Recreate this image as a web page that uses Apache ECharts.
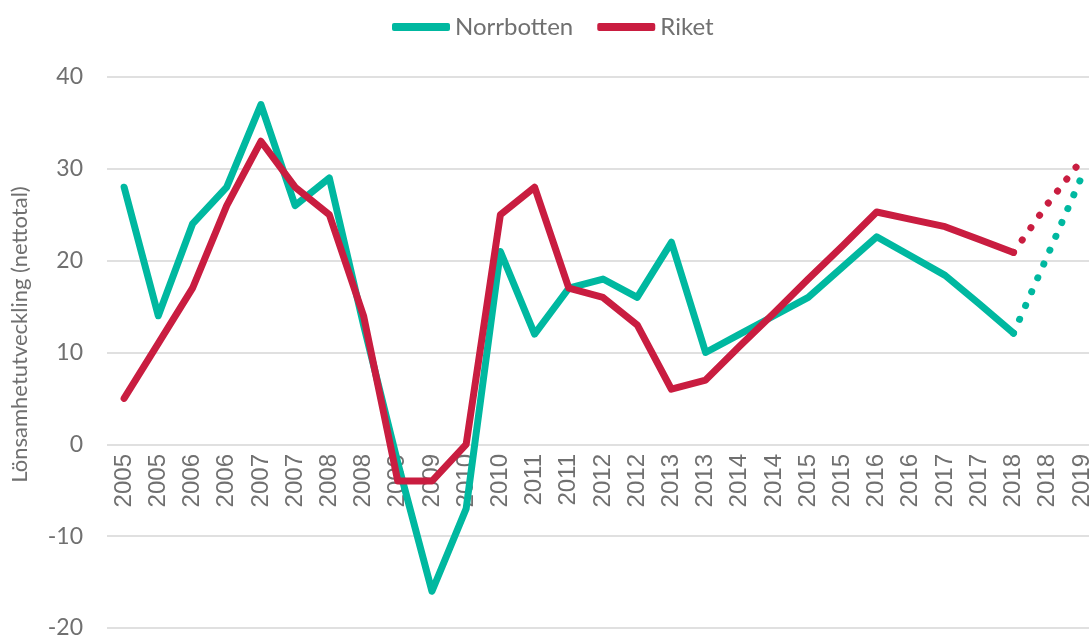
<!DOCTYPE html>
<html>
<head>
<meta charset="utf-8">
<script src="https://cdn.jsdelivr.net/npm/echarts@6/dist/echarts.min.js"></script>
<style>
  html, body { margin: 0; padding: 0; background: #fff; }
  #chart { width: 1089px; height: 635px; }
</style>
</head>
<body>
<div id="chart"></div>
<script>
const categories = ['2005', '2005', '2006', '2006', '2007', '2007', '2008', '2008', '2009', '2009',
  '2010', '2010', '2011', '2011', '2012', '2012', '2013', '2013', '2014', '2014',
  '2015', '2015', '2016', '2016', '2017', '2017', '2018', '2018', '2019']

// utfall (heldragen linje)
const norrbotten = [28, 14, 24, 28, 37, 26, 29, 13, -2, -16, -7, 21, 12, 17, 18, 16, 22, 10,
  12, 14, 16, 19.3, 22.6, 20.5, 18.4, 15.3, 12.1]
const riket = [5, 11, 17, 26, 33, 28, 25, 14, -4, -4, 0, 25, 28, 17, 16, 13, 6, 7,
  10.7, 14.3, 18, 21.6, 25.3, 24.5, 23.7, 22.3, 20.9]

// prognos (prickad linje), från sista utfallet
const norrbottenPrognos = [12.1, 20.6, 29.2]
const riketPrognos = [20.9, 26.2, 31]

const teal = '#00b8a0'
const red = '#c91d40'
const grey = '#707070'

function prognos(values) {
  const arr = categories.map(() => null)
  values.forEach((v, i) => { arr[categories.length - values.length + i] = v })
  return arr
}

const chart = echarts.init(document.getElementById('chart'))

const option = {
  animation: false,
  legend: {
    left: 387,
    top: 10,
    itemWidth: 58,
    itemHeight: 8,
    itemGap: 24,
    icon: 'roundRect',
    data: ['Norrbotten', 'Riket'],
    textStyle: { fontFamily: 'Lato', fontSize: 24, color: grey }
  },
  grid: {
    left: 107,
    right: -10,
    top: 77,
    bottom: 7,
    outerBoundsMode: 'none',
    containLabel: false
  },
  xAxis: {
    type: 'category',
    data: categories,
    boundaryGap: true,
    // etiketterna sitter vid nollinjen (y = 0 ligger 184 px ovanför nederkanten)
    offset: -184,
    axisLine: { show: false, onZero: false },
    axisTick: { show: false },
    axisLabel: {
      rotate: 90,
      interval: 0,
      margin: 10,
      fontFamily: 'Liberation Sans',
      fontSize: 24,
      color: grey
    }
  },
  yAxis: {
    type: 'value',
    min: -20,
    max: 40,
    interval: 10,
    name: 'Lönsamhetutveckling (nettotal)',
    nameLocation: 'middle',
    nameGap: 76,
    nameTextStyle: { fontFamily: 'Lato', fontSize: 22, color: grey, padding: [0, 0, 0, 36] },
    axisLabel: { fontFamily: 'Lato', fontSize: 23, color: grey, margin: 24 },
    splitLine: { lineStyle: { color: '#e0e0e0', width: 2 } }
  },
  series: [
    {
      name: 'Norrbotten',
      type: 'line',
      data: norrbotten,
      showSymbol: false,
      color: teal,
      lineStyle: { width: 7, color: teal, cap: 'round', join: 'round' }
    },
    {
      name: 'Riket',
      type: 'line',
      data: riket,
      showSymbol: false,
      color: red,
      lineStyle: { width: 7, color: red, cap: 'round', join: 'round' }
    },
    {
      name: 'Norrbotten',
      type: 'line',
      data: prognos(norrbottenPrognos),
      showSymbol: false,
      color: teal,
      lineStyle: { width: 7, color: teal, type: [0.1, 15], cap: 'round' }
    },
    {
      name: 'Riket',
      type: 'line',
      data: prognos(riketPrognos),
      showSymbol: false,
      color: red,
      lineStyle: { width: 7, color: red, type: [0.1, 15], cap: 'round' }
    }
  ]
}

chart.setOption(option)
</script>
</body>
</html>
